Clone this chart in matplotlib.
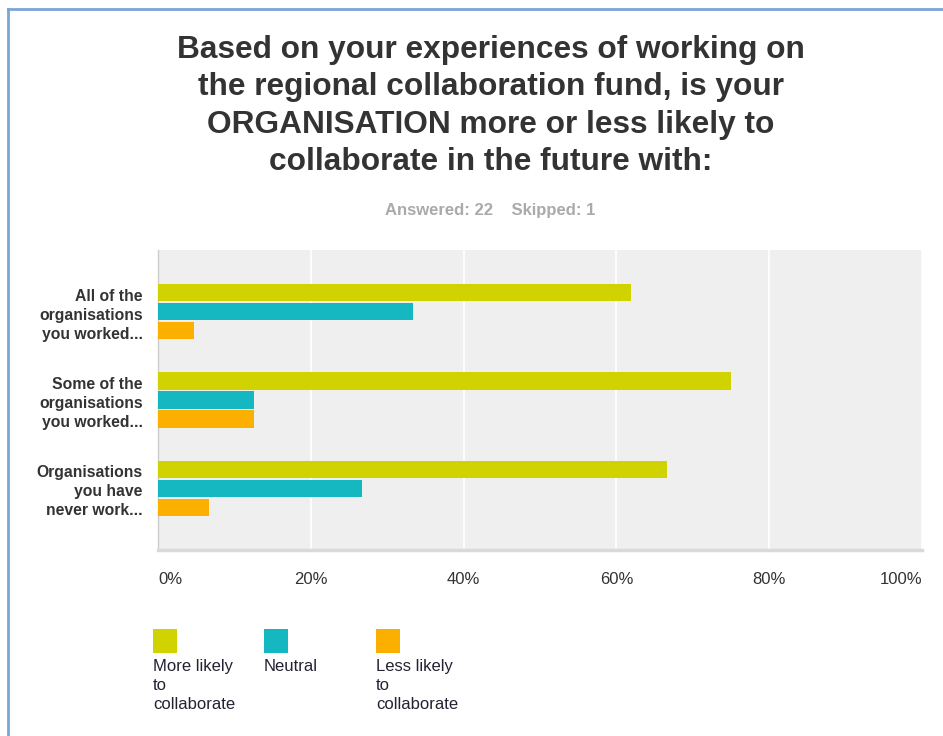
import matplotlib
matplotlib.use("Agg")
import matplotlib.pyplot as plt
import numpy as np
from matplotlib.patches import Rectangle
from matplotlib.lines import Line2D

plt.rcParams['font.family'] = ['Liberation Sans', 'DejaVu Sans']

# Survey data (percent of respondents)
categories = ["All of the\norganisations\nyou worked...",
              "Some of the\norganisations\nyou worked...",
              "Organisations\nyou have\nnever work..."]
series_names = ["More likely\nto\ncollaborate", "Neutral", "Less likely\nto\ncollaborate"]
more_likely = [61.90, 75.00, 66.67]
neutral = [33.33, 12.50, 26.67]
less_likely = [4.76, 12.50, 6.67]
x_ticks = [0, 20, 40, 60, 80, 100]
x_tick_labels = ["0%", "20%", "40%", "60%", "80%", "100%"]

colors = ["#d0d300", "#15b8c1", "#fbb000"]
series = [more_likely, neutral, less_likely]

W, H = 943, 736
fig = plt.figure(figsize=(W / 100, H / 100), dpi=100)
fig.patch.set_facecolor("white")

ax = fig.add_axes([158 / W, 1 - 550 / H, 764 / W, 300 / H])
ax.set_facecolor("#efefef")

y = np.arange(len(categories))
bar_h = 0.195
step = 0.215
for i, (vals, col) in enumerate(zip(series, colors)):
    ax.barh(y + (i - 1) * step, vals, height=bar_h, color=col, edgecolor="none", zorder=3)

ax.set_xlim(0, 100)
ax.set_ylim(2.7, -0.7)
ax.set_xticks(x_ticks)
ax.set_xticklabels(x_tick_labels)
tl = ax.get_xticklabels()
tl[0].set_horizontalalignment("left")
tl[-1].set_horizontalalignment("right")
ax.tick_params(axis="x", length=0, pad=16, labelsize=12, labelcolor="#333333")
ax.xaxis.grid(True, color="white", linewidth=1.2, zorder=1)
ax.set_axisbelow(True)

ax.set_yticks(y)
ax.set_yticklabels(categories, fontweight="bold", fontsize=11.3, color="#333333",
                   linespacing=1.33)
ax.tick_params(axis="y", length=0, pad=11)

for s in ["top", "right"]:
    ax.spines[s].set_visible(False)
ax.spines["left"].set_color("#cccccc")
ax.spines["left"].set_linewidth(1)
ax.spines["bottom"].set_color("#d9d9d9")
ax.spines["bottom"].set_linewidth(2.5)

# Title and response counts
title = ("Based on your experiences of working on\n"
         "the regional collaboration fund, is your\n"
         "ORGANISATION more or less likely to\n"
         "collaborate in the future with:")
fig.text(491 / W, 1 - 106 / H, title, ha="center", va="center", fontsize=22.8,
         fontweight="bold", color="#333333", linespacing=1.33)
fig.text(490 / W, 1 - 210 / H, "Answered: 22    Skipped: 1", ha="center", va="center",
         fontsize=12, fontweight="bold", color="#aaaaaa")

# Legend: swatch above wrapped label
legend_x = [153, 264, 376]
for lx, name, col in zip(legend_x, series_names, colors):
    fig.add_artist(Rectangle((lx / W, 1 - 653 / H), 24 / W, 24 / H,
                             transform=fig.transFigure, facecolor=col, edgecolor="none"))
    fig.text(lx / W, 1 - 659 / H, name, ha="left", va="top", fontsize=12,
             color="#222233", linespacing=1.33)

# Panel frame
frame_col = "#7ba4d8"
fig.add_artist(Line2D([8 / W, 8 / W], [0, 1 - 9 / H], transform=fig.transFigure,
                      color=frame_col, linewidth=2))
fig.add_artist(Line2D([8 / W, 1], [1 - 9 / H, 1 - 9 / H], transform=fig.transFigure,
                      color=frame_col, linewidth=2))

fig.savefig("out.png", dpi=100, facecolor="white")
